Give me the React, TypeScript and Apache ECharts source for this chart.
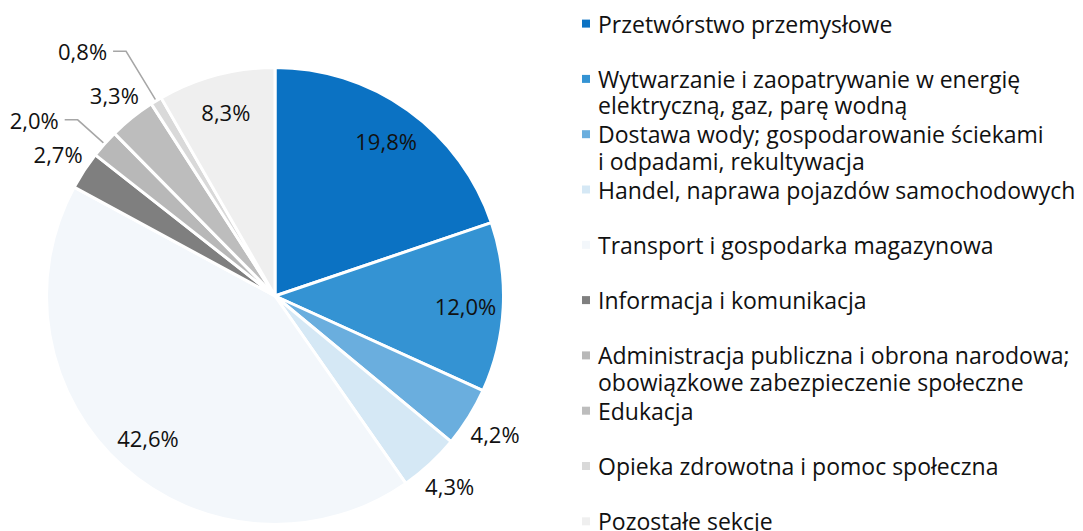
import React, { useEffect, useRef } from 'react';
import * as echarts from 'echarts';

// ---- data ----
const categories: string[] = [
  'Przetwórstwo przemysłowe',
  'Wytwarzanie i zaopatrywanie w energię\nelektryczną, gaz, parę wodną',
  'Dostawa wody; gospodarowanie ściekami\ni odpadami, rekultywacja',
  'Handel, naprawa pojazdów samochodowych',
  'Transport i gospodarka magazynowa',
  'Informacja i komunikacja',
  'Administracja publiczna i obrona narodowa;\nobowiązkowe zabezpieczenie społeczne',
  'Edukacja',
  'Opieka zdrowotna i pomoc społeczna',
  'Pozostałe sekcje',
];
const shares: number[] = [19.8, 12.0, 4.2, 4.3, 42.6, 2.7, 2.0, 3.3, 0.8, 8.3];
const colors: string[] = [
  '#0b72c3', '#3493d3', '#6aaede', '#d5e8f5', '#f3f7fb',
  '#7f7f7f', '#b8b8b8', '#bdbdbd', '#d9d9d9', '#efefef',
];
// label placement mode per slice
const labelModes: string[] = [
  'inside', 'inside', 'outside', 'outside', 'inside',
  'outside', 'leader', 'outside', 'leader', 'inside',
];
const leaderLengths: number[] = [0, 0, 0, 0, 0, 0, 36, 0, 58, 0];

// ---- layout ----
const FONT = "'Open Sans', 'Noto Sans', sans-serif";
const CX = 275;
const CY = 296;
const R = 228.5;
const R_VIS = 227;
const OUT_GAP = 6;
const LEGEND_LEFT = 577;
const LEGEND_LH = 26.5;
const LEGEND_TOP0 = 23.6 - LEGEND_LH / 2;
const LEGEND_STEP = 55.3;

const total = shares.reduce((a, b) => a + b, 0);
const midAngles = shares.map((v, i) => {
  const before = shares.slice(0, i).reduce((a, b) => a + b, 0);
  return ((before + v / 2) / total) * Math.PI * 2;
});

export default function App() {
  const ref = useRef<HTMLDivElement>(null);
  useEffect(() => {
    document.body.style.margin = '0';
    if (!ref.current) return;
    const chart = echarts.init(ref.current, undefined, { renderer: 'svg' });

    const rich: Record<string, any> = {
      g: { width: 8, height: 8 },
      s: { width: 16, height: 8 },
      t: { fontSize: 23, lineHeight: LEGEND_LH, fontFamily: FONT, color: '#111111' },
    };
    colors.forEach((c, i) => {
      rich['m' + i] = { width: 8, height: 8, backgroundColor: c };
    });

    const legends = categories.map((name, i) => ({
      show: true,
      data: [name],
      left: LEGEND_LEFT,
      top: LEGEND_TOP0 + LEGEND_STEP * i,
      orient: 'vertical',
      icon: 'none',
      itemWidth: 0,
      itemHeight: LEGEND_LH,
      padding: 0,
      selectedMode: false,
      textStyle: { fontSize: 23, lineHeight: LEGEND_LH, fontFamily: FONT, color: '#111111', rich },
      formatter: (n: string) =>
        n
          .split('\n')
          .map((line, k) => (k === 0 ? `{m${i}|}{g|}` : '{s|}') + `{t|${line}}`)
          .join('\n'),
    }));

    const labelLayout = (p: any) => {
      const i = p.dataIndex;
      const mode = labelModes[i];
      if (mode === 'leader') return {};
      const a = midAngles[i];
      const ux = Math.sin(a);
      const uy = -Math.cos(a);
      const w = p.labelRect.width;
      const h = p.labelRect.height;
      const d =
        mode === 'inside'
          ? R_VIS * 0.84
          : R_VIS + OUT_GAP + (Math.abs(ux) * w) / 2 + (Math.abs(uy) * h) / 2;
      return { x: CX + ux * d, y: CY + uy * d, align: 'center', verticalAlign: 'middle' };
    };

    chart.setOption({
      animation: false,
      backgroundColor: '#ffffff',
      legend: legends,
      series: [
        {
          type: 'pie',
          radius: R,
          center: [CX, CY],
          startAngle: 90,
          clockwise: true,
          avoidLabelOverlap: false,
          emphasis: { disabled: true },
          itemStyle: { borderColor: '#ffffff', borderWidth: 3 },
          label: {
            show: true,
            fontSize: 22,
            fontFamily: FONT,
            color: '#111111',
            distanceToLabelLine: 6,
            formatter: (p: any) => p.value.toFixed(1).replace('.', ',') + '%',
          },
          labelLine: { show: false },
          labelLayout,
          data: shares.map((v, i) => ({
            value: v,
            name: categories[i],
            itemStyle: { color: colors[i] },
            label: { position: labelModes[i] === 'inside' ? 'inside' : 'outside' },
            labelLine:
              labelModes[i] === 'leader'
                ? {
                    show: true,
                    length: leaderLengths[i],
                    length2: 13,
                    lineStyle: { color: '#a6a6a6', width: 1.5 },
                  }
                : { show: false },
          })),
        },
      ],
    });
    return () => chart.dispose();
  }, []);
  return <div ref={ref} style={{ width: 1083, height: 531 }} />;
}
